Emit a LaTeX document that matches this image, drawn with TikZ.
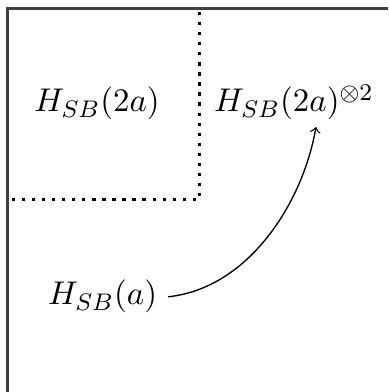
\documentclass[tikz,border=0pt]{standalone}
\usepackage{amsmath}
\begin{document}
\begin{tikzpicture}[x=0.3333pt,y=-0.3333pt,
  frame/.style={line width=0.7pt,draw=black!75},
  dots/.style={line width=1.1pt,dash pattern=on 1.1pt off 2.25pt},
  lbl/.style={font=\fontsize{11}{13}\selectfont,inner sep=3.5pt},
  conn/.style={line width=0.45pt,-{To[scale=1.2]}}]
\useasboundingbox (0,0) rectangle (388,392);
\draw[frame] (388,8.5) -- (7.5,8.5) -- (7.5,392);
\draw[dots] (199.5,12) -- (199.5,199.5) -- (8,199.5);
\node[lbl,anchor=base] (l) at (97,112) {$H_{SB}(2a)$};
\node[lbl,anchor=base west] (r) at (203,112) {$H_{SB}(2a)^{\otimes 2}$};
\node[lbl,anchor=base west] (a) at (37,305) {$H_{SB}(a)$};
\coordinate (tip) at (316,127);
\draw[conn] (a.east) to[out=6,in=-100,looseness=0.9] (tip);
\end{tikzpicture}
\end{document}
